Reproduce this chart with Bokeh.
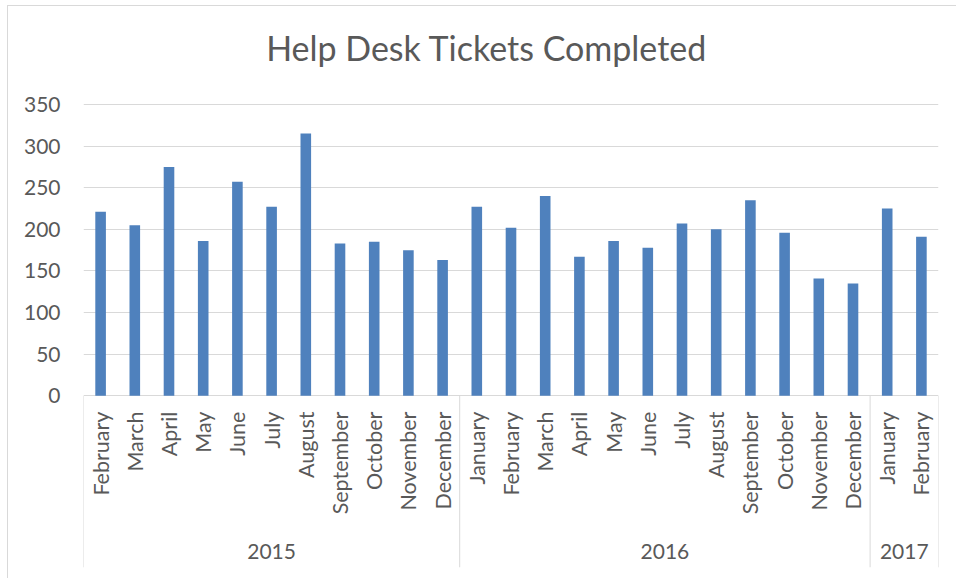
import math
from bokeh.plotting import figure
from bokeh.models import FactorRange, Range1d, FixedTicker, ColumnDataSource
from bokeh.transform import dodge
from bokeh.core.properties import value
from bokeh.embed import file_html
from bokeh.resources import INLINE

# ---------------- data ----------------
title_text = "Help Desk Tickets Completed"
years = ["2015", "2016", "2017"]
months_2015 = ["February", "March", "April", "May", "June", "July", "August",
               "September", "October", "November", "December"]
values_2015 = [221, 205, 275, 186, 257, 227, 315, 183, 185, 175, 163]
months_2016 = ["January", "February", "March", "April", "May", "June", "July",
               "August", "September", "October", "November", "December"]
values_2016 = [227, 202, 240, 167, 186, 178, 207, 200, 235, 196, 141, 135]
months_2017 = ["January", "February"]
values_2017 = [225, 191]
y_ticks = [0, 50, 100, 150, 200, 250, 300, 350]

# ---------------- styles ----------------
FONT = "Lato"
TXT = "#595959"
GRID = "#D9D9D9"
BAR = "#4F81BD"

groups = [(years[0], months_2015, values_2015),
          (years[1], months_2016, values_2016),
          (years[2], months_2017, values_2017)]

factors, month_labels, vals = [], [], []
for yr, ms, vs in groups:
    for m, v in zip(ms, vs):
        factors.append(f"{yr} {m}")
        month_labels.append(m)
        vals.append(v)

# layout constants (data-space positions of the axis area / title)
Y_BOTTOM = -206.3
Y_TOP = 467.7
MONTH_Y = -19.0
YEAR_Y = -187.6
TITLE_Y = 418.0
TITLE_ANCHOR = factors[11]
TITLE_DX = 0.29

p = figure(
    x_range=FactorRange(factors=factors, range_padding=0),
    y_range=Range1d(Y_BOTTOM, Y_TOP),
    width=949, height=573,
    min_border_left=75, min_border_right=19,
    min_border_top=0, min_border_bottom=12,
    output_backend="svg", toolbar_location=None,
)
p.styles = {"margin-left": "8px", "margin-top": "6px",
            "box-shadow": "-1px -1px 0 0 #D9D9D9"}
p.outline_line_color = None
p.background_fill_color = "white"
p.border_fill_color = "white"

p.xaxis.visible = False
p.xgrid.grid_line_color = None

p.yaxis.ticker = FixedTicker(ticks=y_ticks)
p.yaxis.axis_line_color = None
p.yaxis.major_tick_line_color = None
p.yaxis.minor_tick_line_color = None
p.yaxis.major_label_standoff = 17
p.yaxis.major_label_text_font = FONT
p.yaxis.major_label_text_font_size = "21px"
p.yaxis.major_label_text_color = TXT
p.ygrid.ticker = FixedTicker(ticks=y_ticks)
p.ygrid.grid_line_color = GRID
p.ygrid.grid_line_width = 1

src = ColumnDataSource(dict(x=factors, top=vals, label=month_labels,
                            ly=[MONTH_Y] * len(factors)))
p.vbar(x="x", top="top", width=0.31, bottom=0, source=src,
       fill_color=BAR, line_color=None)

p.text(x="x", y="ly", text="label", source=src, angle=math.pi / 2,
       text_align="right", text_baseline="middle",
       text_font=value(FONT), text_font_size="21.5px", text_color=TXT)

# group separators
starts = [f"{yr} {ms[0]}" for yr, ms, _ in groups]
ends = [f"{groups[-1][0]} {groups[-1][1][-1]}"]
s_src = ColumnDataSource(dict(x=starts))
e_src = ColumnDataSource(dict(x=ends))
for s, off in ((s_src, -0.5), (e_src, 0.5)):
    p.segment(x0=dodge("x", off, range=p.x_range), y0=0,
              x1=dodge("x", off, range=p.x_range), y1=Y_BOTTOM,
              source=s, line_color=GRID, line_width=1)

# year labels centred under their groups
odd_x, odd_t, even_x, even_t = [], [], [], []
for yr, ms, _ in groups:
    n = len(ms)
    if n % 2:
        odd_x.append(f"{yr} {ms[n // 2]}"); odd_t.append(yr)
    else:
        even_x.append(f"{yr} {ms[n // 2 - 1]}"); even_t.append(yr)
for xs, ts, off in ((odd_x, odd_t, 0.0), (even_x, even_t, 0.5)):
    ysrc = ColumnDataSource(dict(x=xs, t=ts, y=[YEAR_Y] * len(xs)))
    p.text(x=dodge("x", off, range=p.x_range), y="y", text="t", source=ysrc,
           text_align="center", text_baseline="middle",
           text_font=value(FONT), text_font_size="21px", text_color=TXT)

# chart title
tsrc = ColumnDataSource(dict(x=[TITLE_ANCHOR], y=[TITLE_Y], t=[title_text]))
p.text(x=dodge("x", TITLE_DX, range=p.x_range), y="y", text="t", source=tsrc,
       text_align="center", text_baseline="middle",
       text_font=value(FONT), text_font_size="34px", text_color=TXT)

open("out.html", "w").write(file_html(p, INLINE))
